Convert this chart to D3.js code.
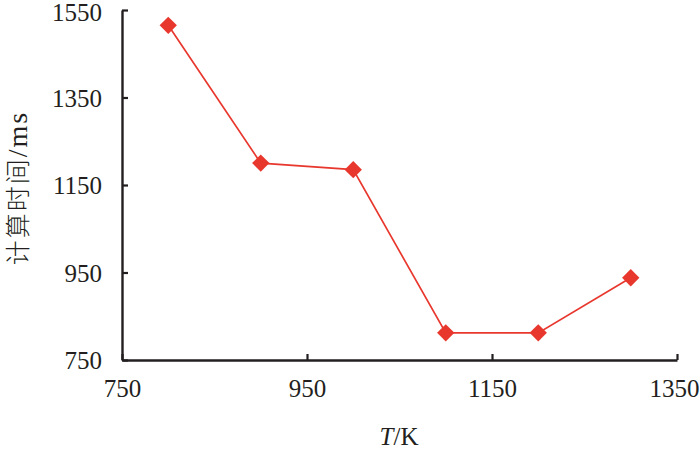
<!DOCTYPE html>
<html><head><meta charset="utf-8">
<script src="https://cdn.jsdelivr.net/npm/d3@7"></script>
<style>body{margin:0;background:#fff;} svg{display:block;}</style>
</head><body>
<svg id="c" width="700" height="449"></svg>
<script>
const temps = [800, 900, 1000, 1100, 1200, 1300];
const times = [1515, 1200, 1185, 812, 812, 938];
const xTicks = [750, 950, 1150, 1350];
const yTicks = [750, 950, 1150, 1350, 1550];

const svg = d3.select("#c");
const L = 122, R = 677, T = 10, B = 360;
const x = d3.scaleLinear().domain([750, 1350]).range([L, R]);
const y = d3.scaleLinear().domain([750, 1550]).range([B, T]);
const font = "'Liberation Serif','Times New Roman',serif";
const red = "#e8382e";
const ink = "#231f20";

const xa = svg.append("g").attr("transform", `translate(0,${B})`)
  .call(d3.axisBottom(x).tickValues(xTicks).tickSize(-6).tickSizeOuter(0).tickPadding(19).tickFormat(d3.format("d")));
const ya = svg.append("g").attr("transform", `translate(${L},0)`)
  .call(d3.axisLeft(y).tickValues(yTicks).tickSize(-6).tickSizeOuter(0).tickPadding(20).tickFormat(d3.format("d")));
[xa, ya].forEach(a => {
  a.select(".domain").attr("stroke", ink).attr("stroke-width", 2.4);
  a.selectAll(".tick line").attr("stroke", ink).attr("stroke-width", 2.2);
  a.selectAll("text").attr("font-family", font).attr("font-size", 25).attr("fill", ink);
});
ya.selectAll(".tick text").attr("dy", "0.34em");
xa.selectAll(".tick text").filter(d => d === 1350).attr("dx", -3);
ya.selectAll(".tick text").filter(d => d === 1550).attr("dy", "0.40em");

const line = d3.line().x((d, i) => x(temps[i])).y(d => y(d));
svg.append("path").datum(times).attr("d", line)
  .attr("fill", "none").attr("stroke", red).attr("stroke-width", 1.7);

const sym = d3.symbol().type(d3.symbolSquare).size(150);
svg.selectAll(".m").data(times).join("path")
  .attr("d", sym)
  .attr("transform", (d, i) => `translate(${x(temps[i])},${y(d)}) rotate(45)`)
  .attr("fill", red);

const yl = svg.append("text")
  .attr("transform", `translate(27,188) rotate(-90)`)
  .attr("text-anchor", "middle")
  .attr("font-size", 25).attr("fill", ink);
yl.append("tspan").attr("font-family", "'Noto Sans CJK SC',sans-serif").attr("font-weight", 300)
  .attr("letter-spacing", 2).text("计算时间");
yl.append("tspan").attr("font-family", font).attr("font-size", 28).attr("letter-spacing", 2).text("/ms");

const xl = svg.append("text")
  .attr("x", 399).attr("y", 445)
  .attr("text-anchor", "middle")
  .attr("font-family", font).attr("font-size", 25).attr("fill", ink);
xl.append("tspan").attr("font-style", "italic").text("T");
xl.append("tspan").text("/K");
</script>
</body></html>
